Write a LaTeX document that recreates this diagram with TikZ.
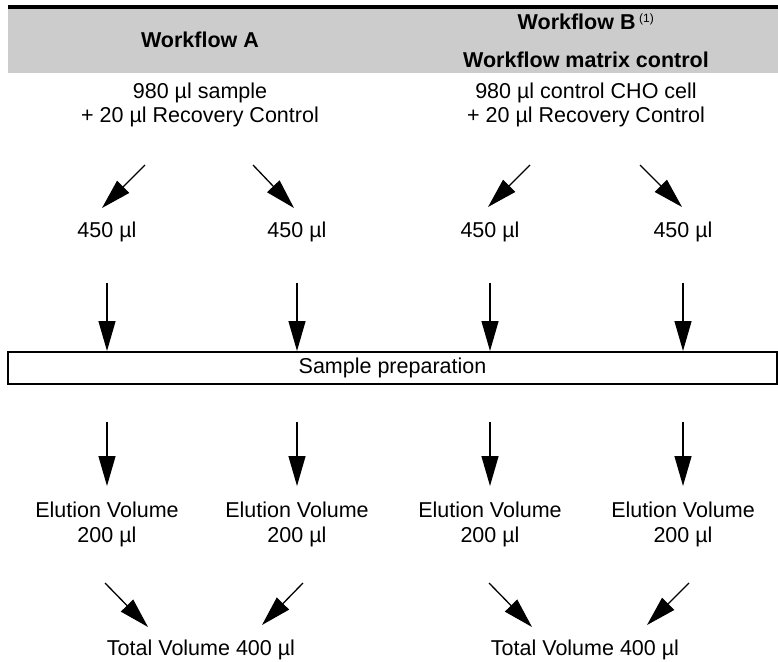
\documentclass[tikz,border=0pt]{standalone}
\usepackage{fontspec}
\setmainfont{Liberation Sans}
\usetikzlibrary{arrows.meta, positioning}
\definecolor{headgray}{HTML}{CCCCCC}
\tikzstyle{head} = [inner sep = 0pt, anchor = base, font = \fontsize{21.5}{25}\selectfont\bfseries]
\tikzstyle{vol} = [inner sep = 0pt, anchor = base, font = \fontsize{21.5}{25}\selectfont]
\tikzstyle{flow} = [-{Triangle[length = 30pt, width = 17pt]}, line width = 1.3pt]

\begin{document}
\begin{tikzpicture}[x = 1pt, y = -1pt]
\useasboundingbox (0,0) rectangle (778,661);
% table head
\fill[headgray] (8,9) rectangle (778,73);
\fill[black] (8,5) rectangle (778,9.5);
\node (headA) [head] at (200,48) {Workflow A};
\node (headB) [head] at (586,30) {Workflow B\,\textsuperscript{\mdseries\fontsize{12}{12}\selectfont (1)}};
\node (headM) [head] at (586,67) {Workflow matrix control};
% starting material
\node (srcA) [vol] at (200,98) {980 µl sample};
\node (addA) [vol] at (200,122) {+ 20 µl Recovery Control};
\node (srcB) [vol] at (586,98) {980 µl control CHO cell};
\node (addB) [vol] at (586,122) {+ 20 µl Recovery Control};
% split into aliquots
\node (a1) [vol] at (107,237) {450 µl};
\node (a2) [vol] at (297,237) {450 µl};
\node (b1) [vol] at (490,237) {450 µl};
\node (b2) [vol] at (683,237) {450 µl};
\coordinate (sa1) at (145,165); \coordinate (ta1) at (102,208);
\coordinate (sa2) at (253,165); \coordinate (ta2) at (294,208);
\coordinate (sb1) at (530,165); \coordinate (tb1) at (488,207);
\coordinate (sb2) at (640,165); \coordinate (tb2) at (682,207);
\draw[flow] (sa1) -- (ta1);
\draw[flow] (sa2) -- (ta2);
\draw[flow] (sb1) -- (tb1);
\draw[flow] (sb2) -- (tb2);
% preparation
\node (prep) [draw, line width = 2pt, minimum width = 769pt, minimum height = 32pt, inner sep = 0pt, font = \fontsize{21.5}{25}\selectfont] at (392.5,368) {Sample preparation};
\foreach \n/\x in {a1/107, a2/297, b1/490, b2/683} {
  \coordinate (in\n) at (\x,283);
  \draw[flow] (in\n) -- (in\n |- prep.north);
  \coordinate (out\n) at (\x,422);
  \draw[flow] (out\n) -- (\x,486);
}
% eluates
\node (ea1) [vol] at (107,517) {Elution Volume};
\node (ea2) [vol] at (297,517) {Elution Volume};
\node (eb1) [vol] at (490,517) {Elution Volume};
\node (eb2) [vol] at (683,517) {Elution Volume};
\node (va1) [vol] at (107,542) {200 µl};
\node (va2) [vol] at (297,542) {200 µl};
\node (vb1) [vol] at (490,542) {200 µl};
\node (vb2) [vol] at (683,542) {200 µl};
% pooling
\node (totA) [vol] at (201,655) {Total Volume 400 µl};
\node (totB) [vol] at (585,655) {Total Volume 400 µl};
\coordinate (pa1) at (105,583); \coordinate (qa1) at (148,627);
\coordinate (pa2) at (303,583); \coordinate (qa2) at (262,625);
\coordinate (pb1) at (489,583); \coordinate (qb1) at (532,627);
\coordinate (pb2) at (689,583); \coordinate (qb2) at (647,625);
\draw[flow] (pa1) -- (qa1);
\draw[flow] (pa2) -- (qa2);
\draw[flow] (pb1) -- (qb1);
\draw[flow] (pb2) -- (qb2);
\end{tikzpicture}
\end{document}
